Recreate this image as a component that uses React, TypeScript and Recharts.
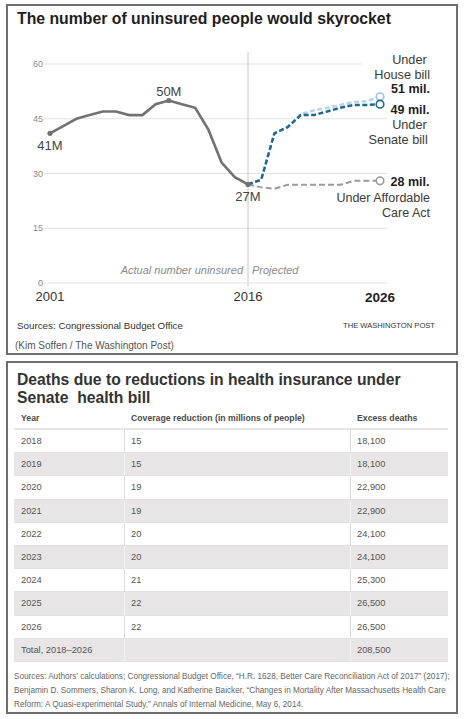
import React from 'react';
import { LineChart, Line, XAxis, YAxis, CartesianGrid, ReferenceLine, ReferenceDot } from 'recharts';

// actual uninsured, millions
const histYears = [2001, 2002, 2003, 2004, 2005, 2006, 2007, 2008, 2009, 2010, 2011, 2012, 2013, 2014, 2015, 2016];
const actualUninsured = [41, 43, 45, 46, 47, 47, 46, 46, 49, 50, 49, 48, 42, 33, 29, 27];

// projections
const projYears = [2016, 2017, 2018, 2019, 2020, 2021, 2022, 2023, 2024, 2025, 2026];
const senateBill = [27, 28.3, 41, 42.7, 46, 46, 47, 48, 48.8, 48.8, 49];
const houseBill = [27, 28.3, 41, 42.7, 46.3, 47.3, 48, 48.8, 49.6, 49.8, 51];
const affordableCareAct = [27, 26.2, 25.8, 26.9, 26.9, 26.9, 26.9, 26.9, 28, 28, 28];

const yTicks = [0, 15, 30, 45, 60];
const xTicks = [2001, 2016, 2026];

// table
const tableYears = ['2018', '2019', '2020', '2021', '2022', '2023', '2024', '2025', '2026'];
const coverageCuts = ['15', '15', '19', '19', '20', '20', '21', '22', '22'];
const excessDeaths = ['18,100', '18,100', '22,900', '22,900', '24,100', '24,100', '25,300', '26,500', '26,500'];
const totalLabel = 'Total, 2018\u20132026';
const totalDeaths = '208,500';

const FONT = '"Liberation Sans", Arial, sans-serif';
const SENATE = '#1f6991';
const HOUSE = '#b9d4e8';
const ACA = '#9b9b9b';
const ACTUAL = '#727272';

const allYears = [...histYears, ...projYears.slice(1)];
const chartRows = allYears.map((year) => {
  const h = histYears.indexOf(year);
  const p = projYears.indexOf(year);
  return {
    year,
    actual: h >= 0 ? actualUninsured[h] : null,
    senate: p >= 0 ? senateBill[p] : null,
    house: p >= 0 ? houseBill[p] : null,
    aca: p >= 0 ? affordableCareAct[p] : null,
  };
});

const endDot = (color: string) => (props: any) => {
  const { cx, cy, index } = props;
  if (index !== chartRows.length - 1 || cx == null || cy == null) return <g key={`e-${index}`} />;
  return <circle key={`e-${index}`} cx={cx} cy={cy} r={3.8} fill="#fff" stroke={color} strokeWidth={1.6} />;
};

const YearTick = (props: any) => {
  const { x, y, payload } = props;
  const last = payload.value === 2026;
  return (
    <text x={x} y={y} dy="0.71em" textAnchor="middle" fontFamily={FONT}
      fontSize={last ? 13.5 : 13} fontWeight={last ? 700 : 400} fill={last ? '#222' : '#333'}>
      {payload.value}
    </text>
  );
};

// positioned text, y is the vertical centre
const Txt = ({ x, y, size, children, weight = 400, color = '#333', right = false, italic = false }: any) => {
  const lh = Math.round(size * 1.3);
  return (
    <div style={{
      position: 'absolute',
      left: right ? undefined : x,
      right: right ? 466 - x : undefined,
      top: y - lh / 2,
      fontSize: size,
      lineHeight: `${lh}px`,
      fontWeight: weight,
      fontStyle: italic ? 'italic' : 'normal',
      color,
      whiteSpace: 'pre',
    }}>{children}</div>
  );
};

const ROW_TOP = 430;
const ROW_H = 23.2;
const TBL_LEFT = 14;
const COL2 = 124;
const COL3 = 350;
const TBL_RIGHT = 448;

const TableRow = ({ i, cells }: { i: number; cells: string[] }) => {
  const shaded = i % 2 === 1;
  const divider = shaded ? '#f3f3f3' : '#dcdcdc';
  const cellStyle = (left: number, width: number, border: boolean): React.CSSProperties => ({
    position: 'absolute', left, width, top: 0, height: ROW_H,
    borderLeft: border ? `1px solid ${divider}` : 'none',
    boxSizing: 'border-box', paddingLeft: border ? 6 : 7,
    lineHeight: `${ROW_H}px`, fontSize: 9.3, color: '#555',
  });
  return (
    <div style={{
      position: 'absolute', left: TBL_LEFT, top: ROW_TOP + i * ROW_H, width: TBL_RIGHT - TBL_LEFT, height: ROW_H,
      background: shaded ? '#e7e5e5' : '#fff', borderBottom: '1px solid #e2e2e2', boxSizing: 'border-box',
    }}>
      <div style={cellStyle(0, COL2 - TBL_LEFT, false)}>{cells[0]}</div>
      <div style={cellStyle(COL2 - TBL_LEFT, COL3 - COL2, true)}>{cells[1]}</div>
      <div style={cellStyle(COL3 - TBL_LEFT, TBL_RIGHT - COL3, true)}>{cells[2]}</div>
    </div>
  );
};

export default function App() {
  const rows = tableYears.map((y, i) => [y, coverageCuts[i], excessDeaths[i]]);
  rows.push([totalLabel, '', totalDeaths]);

  return (
    <div style={{ position: 'absolute', left: 0, top: 0, width: 466, height: 719, background: '#fff', fontFamily: FONT, overflow: 'hidden' }}>
      {/* top panel */}
      <div style={{ position: 'absolute', left: 6, top: 4, width: 452, height: 351, border: '2px solid #6e6e6e', boxSizing: 'border-box' }} />
      <Txt x={17} y={18.3} size={15.8} weight={700} color="#1e1e1e">The number of uninsured people would skyrocket</Txt>

      <div style={{ position: 'absolute', left: 0, top: 0 }}>
        <LineChart width={466} height={320} data={chartRows} margin={{ top: 64, right: 79, bottom: 0, left: 0 }}>
          <CartesianGrid vertical={false} stroke="#e2e2e2" />
          <XAxis dataKey="year" type="number" domain={[2000.545, 2026.53]} allowDataOverflow ticks={xTicks}
            axisLine={false} tickLine={false} tickSize={0} tickMargin={9} height={37} tick={<YearTick />} interval={0} />
          <YAxis domain={[0, 60]} ticks={yTicks} width={44} axisLine={false} tickLine={false} tickSize={0} tickMargin={1}
            tick={{ fontSize: 9, fill: '#8a8a8a', fontFamily: FONT }} interval={0} />
          <ReferenceLine segment={[{ x: 2016, y: -1 }, { x: 2016, y: 63.3 }]} stroke="#c8c8c8" strokeWidth={1} ifOverflow="visible" />
          <Line dataKey="aca" stroke={ACA} strokeWidth={2} strokeDasharray="6 3" dot={endDot(ACA)} isAnimationActive={false} connectNulls={false} />
          <Line dataKey="house" stroke={HOUSE} strokeWidth={2.5} strokeDasharray="5 2.5" dot={endDot('#9cc3df')} isAnimationActive={false} connectNulls={false} />
          <Line dataKey="senate" stroke={SENATE} strokeWidth={2.5} strokeDasharray="5 2.5" dot={endDot(SENATE)} isAnimationActive={false} connectNulls={false} />
          <Line dataKey="actual" stroke={ACTUAL} strokeWidth={2.6} dot={false} isAnimationActive={false} connectNulls={false} />
          <ReferenceDot x={2001} y={41} r={2.6} fill={ACTUAL} stroke="none"
            label={{ value: '41M', position: 'bottom', offset: 5, fill: '#444', fontSize: 13, fontFamily: FONT }} />
          <ReferenceDot x={2010} y={50} r={2.6} fill={ACTUAL} stroke="none"
            label={{ value: '50M', position: 'top', offset: 2, fill: '#444', fontSize: 13, fontFamily: FONT }} />
          <ReferenceDot x={2016} y={27} r={2.6} fill={ACTUAL} stroke="none"
            label={{ value: '27M', position: 'bottom', offset: 5, fill: '#444', fontSize: 13, fontFamily: FONT }} />
        </LineChart>
      </div>

      <Txt x={243} y={270} size={11} italic color="#8a8a8a" right>Actual number uninsured</Txt>
      <Txt x={252} y={270} size={11} italic color="#8a8a8a">Projected</Txt>

      {/* series labels */}
      <div style={{ position: 'absolute', left: 362, top: 52, width: 70, height: 38, background: '#fff' }} />
      <Txt x={426.7} y={60} size={12.7} color="#3a3a3a" right>Under</Txt>
      <Txt x={430} y={75} size={12.7} color="#3a3a3a" right>House bill</Txt>
      <Txt x={430} y={88.7} size={12.5} weight={700} color="#1e1e1e" right>51 mil.</Txt>
      <Txt x={429.5} y={109.7} size={12.5} weight={700} color="#1e1e1e" right>49 mil.</Txt>
      <Txt x={426.7} y={125} size={12.7} color="#3a3a3a" right>Under</Txt>
      <Txt x={427.7} y={140} size={12.7} color="#3a3a3a" right>Senate bill</Txt>
      <Txt x={429.5} y={181.7} size={12.5} weight={700} color="#1e1e1e" right>28 mil.</Txt>
      <Txt x={430} y={197.7} size={12.5} color="#3a3a3a" right>Under Affordable</Txt>
      <Txt x={430} y={212.7} size={12.5} color="#3a3a3a" right>Care Act</Txt>

      <Txt x={17} y={325.7} size={9.8} color="#333">Sources: Congressional Budget Office</Txt>
      <Txt x={435} y={326} size={7.6} color="#333" right>THE WASHINGTON POST</Txt>
      <Txt x={15} y={345} size={10} color="#555">(Kim Soffen / The Washington Post)</Txt>

      {/* bottom panel */}
      <div style={{ position: 'absolute', left: 6, top: 361, width: 452, height: 353, border: '2px solid #6e6e6e', boxSizing: 'border-box' }} />
      <Txt x={17} y={380} size={15.7} weight={700} color="#333">Deaths due to reductions in health insurance under</Txt>
      <Txt x={17} y={397.7} size={15.7} weight={700} color="#333">{'Senate\u00a0 health bill'}</Txt>

      <Txt x={21} y={418} size={8.7} weight={700} color="#4a4a4a">Year</Txt>
      <Txt x={131} y={418} size={8.7} weight={700} color="#4a4a4a">Coverage reduction (in millions of people)</Txt>
      <Txt x={357} y={418} size={8.7} weight={700} color="#4a4a4a">Excess deaths</Txt>
      <div style={{ position: 'absolute', left: TBL_LEFT, top: 428, width: TBL_RIGHT - TBL_LEFT, height: 2, background: '#e6e6e6' }} />

      {rows.map((cells, i) => <TableRow key={i} i={i} cells={cells} />)}

      <Txt x={14} y={676} size={8.2} color="#666">{'Sources: Authors\u2019 calculations; Congressional Budget Office, \u201cH.R. 1628, Better Care Reconciliation Act of 2017\u201d (2017);'}</Txt>
      <Txt x={14} y={690.5} size={8.2} color="#666">{'Benjamin D. Sommers, Sharon K. Long, and Katherine Baicker, \u201cChanges in Mortality After Massachusetts Health Care'}</Txt>
      <Txt x={14} y={704.5} size={8.2} color="#666">{'Reform: A Quasi-experimental Study,\u201d Annals of Internal Medicine, May 6, 2014.'}</Txt>
    </div>
  );
}
